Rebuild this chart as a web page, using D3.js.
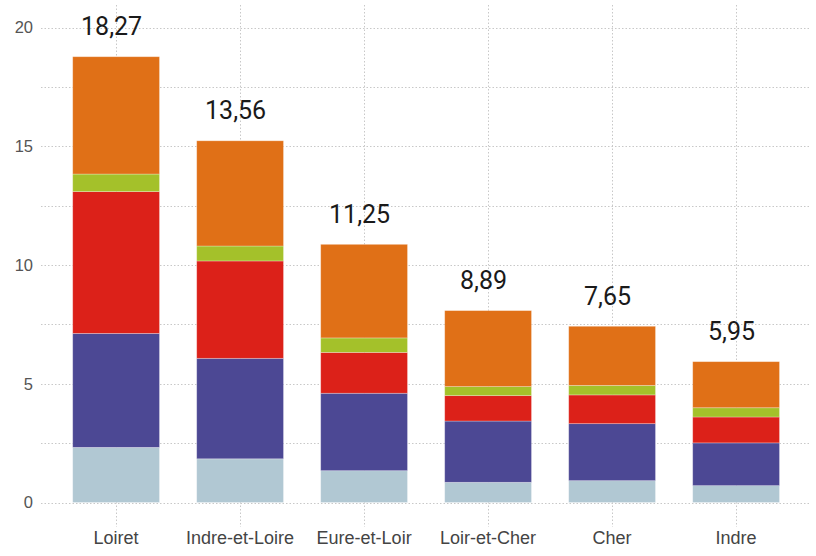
<!DOCTYPE html>
<html lang="fr">
<head>
<meta charset="utf-8">
<script src="https://cdn.jsdelivr.net/npm/d3@7"></script>
<style>
  html, body { margin: 0; padding: 0; background: #fff; }
  svg { display: block; }
  text { font-family: "Liberation Sans", Arial, sans-serif; }
</style>
</head>
<body>
<svg id="chart" width="816" height="556"></svg>
<script>
// Départements, ordered as drawn
const categories = ["Loiret", "Indre-et-Loire", "Eure-et-Loir", "Loir-et-Cher", "Cher", "Indre"];

// Stacked segments, bottom to top
const seriesKeys = ["part1", "part2", "part3", "part4", "part5"];
const part1 = [2.32, 1.84, 1.34, 0.85, 0.92, 0.71];
const part2 = [4.80, 4.23, 3.26, 2.58, 2.40, 1.80];
const part3 = [5.97, 4.10, 1.72, 1.07, 1.21, 1.09];
const part4 = [0.74, 0.63, 0.61, 0.38, 0.40, 0.39];
const part5 = [4.94, 4.43, 3.94, 3.20, 2.49, 1.94];

// Figures printed above each column
const totalLabels = ["18,27", "13,56", "11,25", "8,89", "7,65", "5,95"];

// Axis ticks
const yTicks = [0, 5, 10, 15, 20];
const yGrid = [0, 2.5, 5, 7.5, 10, 12.5, 15, 17.5, 20];

const colors = ["#b1c8d3", "#4c4894", "#dc2119", "#a4c12a", "#e07017"];

const rows = categories.map((c, i) => ({
  cat: c,
  part1: part1[i], part2: part2[i], part3: part3[i], part4: part4[i], part5: part5[i]
}));

const svg = d3.select("#chart");

const x = d3.scaleBand().domain(categories).range([54.1, 798.1])
  .paddingInner(0.3).paddingOuter(0.15);
const y = d3.scaleLinear().domain([0, 20]).range([502.5, 27.5]);

const gridColor = "#c8c8c8";

// Horizontal dotted grid
svg.append("g").selectAll("line").data(yGrid).join("line")
  .attr("x1", 41).attr("x2", 810)
  .attr("y1", d => Math.round(y(d)) + 0.5).attr("y2", d => Math.round(y(d)) + 0.5)
  .attr("stroke", gridColor).attr("stroke-width", 1).attr("stroke-dasharray", "1.5,2");

// Vertical dotted grid through each column
svg.append("g").selectAll("line").data(categories).join("line")
  .attr("x1", d => Math.round(x(d) + x.bandwidth() / 2) + 0.5)
  .attr("x2", d => Math.round(x(d) + x.bandwidth() / 2) + 0.5)
  .attr("y1", 5).attr("y2", 527)
  .attr("stroke", gridColor).attr("stroke-width", 1).attr("stroke-dasharray", "1.5,2");

// Stacked bars
const stack = d3.stack().keys(seriesKeys)(rows);
svg.append("g").selectAll("g").data(stack).join("g")
  .attr("fill", (d, i) => colors[i])
  .selectAll("rect").data(d => d).join("rect")
  .attr("x", d => x(d.data.cat))
  .attr("width", x.bandwidth())
  .attr("y", d => y(d[1]))
  .attr("height", d => y(d[0]) - y(d[1]))
  .attr("stroke", "rgba(255,255,255,0.35)")
  .attr("stroke-width", 0.8);

// Y axis labels
const yAxis = svg.append("g").attr("transform", "translate(33,0)")
  .call(d3.axisLeft(y).tickValues(yTicks).tickSize(0).tickPadding(0).tickFormat(d3.format("d")));
yAxis.select(".domain").remove();
yAxis.selectAll("text")
  .attr("fill", "#555").attr("font-size", 16.5)
  .style("font-family", "'Liberation Sans', Arial, sans-serif");

// X axis labels
const xAxis = svg.append("g").attr("transform", "translate(0,531)")
  .call(d3.axisBottom(x).tickSize(0).tickPadding(0));
xAxis.select(".domain").remove();
xAxis.selectAll("text")
  .attr("fill", "#444").attr("font-size", 18).attr("dy", "0.71em")
  .style("font-family", "'Liberation Sans', Arial, sans-serif");

// Column figures
const tops = stack[stack.length - 1];
svg.append("g").selectAll("text").data(tops).join("text")
  .attr("x", d => x(d.data.cat) + x.bandwidth() / 2 - 4.5)
  .attr("y", d => y(d[1]) - 21.5)
  .attr("text-anchor", "middle")
  .attr("font-size", 25)
  .attr("font-weight", 400)
  .attr("fill", "#1a1a1a")
  .style("font-family", "Roboto, 'Liberation Sans', sans-serif")
  .text((d, i) => totalLabels[i]);
</script>
</body>
</html>
